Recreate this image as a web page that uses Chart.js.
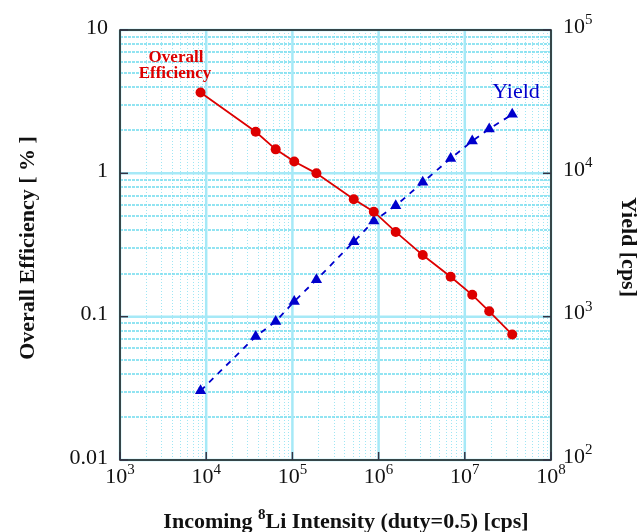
<!DOCTYPE html>
<html>
<head>
<meta charset="utf-8">
<script src="https://cdn.jsdelivr.net/npm/chart.js@4.4.1/dist/chart.umd.min.js"></script>
<style>
  html, body { margin: 0; padding: 0; background: #fff; }
  canvas { display: block; }
</style>
</head>
<body>
<canvas id="chart" width="641" height="532"></canvas>
<script>
// Data
const intensity  = [8.6e3, 3.75e4, 6.4e4, 1.05e5, 1.9e5, 5.15e5, 8.8e5, 1.58e6, 3.25e6, 6.85e6, 1.22e7, 1.92e7, 3.55e7];
const efficiency = [3.66, 1.95, 1.47, 1.21, 1.0, 0.66, 0.54, 0.39, 0.269, 0.19, 0.142, 0.109, 0.075];
const yieldCps   = [304, 728, 925, 1277, 1810, 3330, 4650, 5950, 8650, 12700, 16800, 20400, 25800];

const xExponents     = [3, 4, 5, 6, 7, 8];
const effTickValues  = [10, 1, 0.1, 0.01];
const effTickLabels  = ['10', '1', '0.1', '0.01'];
const yieldExponents = [2, 3, 4, 5];

const RED = '#dd0000';
const BLUE = '#0000cc';
const SERIF = '"Liberation Serif", "DejaVu Serif", serif';

// Helpers
function toPoints(xs, ys) {
  return xs.map((x, i) => ({ x: x, y: ys[i] }));
}

function drawPower(ctx, x, y, exp, align) {
  // "10" with a raised exponent, real text
  ctx.font = '22px ' + SERIF;
  const wBase = ctx.measureText('10').width;
  ctx.font = '15px ' + SERIF;
  const wExp = ctx.measureText(String(exp)).width;
  let left = x;
  if (align === 'center') left = x - (wBase + wExp) / 2;
  ctx.textAlign = 'left';
  ctx.textBaseline = 'middle';
  ctx.font = '22px ' + SERIF;
  ctx.fillText('10', left, y);
  ctx.font = '15px ' + SERIF;
  ctx.fillText(String(exp), left + wBase, y - 7);
}

// Grid, frame and tick marks under the data
const gridPlugin = {
  id: 'logGrid',
  beforeDatasetsDraw(chart) {
    const { ctx, chartArea: a, scales } = chart;
    const sx = scales.x, sy = scales.y;
    ctx.save();

    // minor vertical lines
    ctx.setLineDash([1, 2]);
    ctx.lineWidth = 1;
    ctx.strokeStyle = '#9fe6f4';
    for (let e = 3; e < 8; e++) {
      for (let m = 2; m <= 9; m++) {
        const px = Math.round(sx.getPixelForValue(m * Math.pow(10, e))) + 0.5;
        ctx.beginPath(); ctx.moveTo(px, a.top); ctx.lineTo(px, a.bottom); ctx.stroke();
      }
    }
    // minor horizontal lines
    ctx.setLineDash([3, 1]);
    ctx.lineWidth = 1.5;
    ctx.strokeStyle = '#6fdcee';
    for (let e = -2; e < 1; e++) {
      for (let m = 2; m <= 9; m++) {
        const py = Math.round(sy.getPixelForValue(m * Math.pow(10, e)));
        ctx.beginPath(); ctx.moveTo(a.left, py); ctx.lineTo(a.right, py); ctx.stroke();
      }
    }
    // major lines
    ctx.setLineDash([]);
    ctx.lineWidth = 2.5;
    ctx.strokeStyle = '#a6e9f7';
    xExponents.forEach(e => {
      const px = sx.getPixelForValue(Math.pow(10, e));
      ctx.beginPath(); ctx.moveTo(px, a.top); ctx.lineTo(px, a.bottom); ctx.stroke();
    });
    effTickValues.forEach(v => {
      const py = sy.getPixelForValue(v);
      ctx.beginPath(); ctx.moveTo(a.left, py); ctx.lineTo(a.right, py); ctx.stroke();
    });

    // frame
    ctx.lineWidth = 1.5;
    ctx.strokeStyle = '#111';
    ctx.strokeRect(a.left, a.top, a.right - a.left, a.bottom - a.top);

    // decade tick marks, inside
    ctx.strokeStyle = '#334';
    ctx.lineWidth = 1.5;
    xExponents.forEach(e => {
      const px = sx.getPixelForValue(Math.pow(10, e));
      ctx.beginPath(); ctx.moveTo(px, a.bottom); ctx.lineTo(px, a.bottom - 8); ctx.stroke();
    });
    effTickValues.forEach(v => {
      const py = sy.getPixelForValue(v);
      ctx.beginPath(); ctx.moveTo(a.left, py); ctx.lineTo(a.left + 8, py); ctx.stroke();
      ctx.beginPath(); ctx.moveTo(a.right, py); ctx.lineTo(a.right - 8, py); ctx.stroke();
    });
    ctx.restore();
  }
};

// Tick labels, titles and annotations
const labelPlugin = {
  id: 'labels',
  afterDraw(chart) {
    const { ctx, chartArea: a, scales } = chart;
    ctx.save();
    ctx.fillStyle = '#111';

    // bottom ticks
    xExponents.forEach(e => {
      drawPower(ctx, scales.x.getPixelForValue(Math.pow(10, e)), a.bottom + 17, e, 'center');
    });
    // left ticks
    ctx.font = '22px ' + SERIF;
    ctx.textAlign = 'right';
    ctx.textBaseline = 'middle';
    effTickValues.forEach((v, i) => {
      ctx.fillText(effTickLabels[i], a.left - 12, scales.y.getPixelForValue(v) - 2);
    });
    // right ticks
    yieldExponents.forEach(e => {
      drawPower(ctx, a.right + 12, scales.y2.getPixelForValue(Math.pow(10, e)) - 3, e, 'left');
    });

    // bottom title with superscript 8
    const pre = 'Incoming ', sup = '8', post = 'Li Intensity (duty=0.5) [cps]';
    ctx.textBaseline = 'alphabetic';
    ctx.textAlign = 'left';
    ctx.font = 'bold 22px ' + SERIF;
    const wPre = ctx.measureText(pre).width, wPost = ctx.measureText(post).width;
    ctx.font = 'bold 15px ' + SERIF;
    const wSup = ctx.measureText(sup).width;
    let x0 = 346 - (wPre + wSup + wPost) / 2;
    ctx.font = 'bold 22px ' + SERIF;
    ctx.fillText(pre, x0, 528);
    ctx.font = 'bold 15px ' + SERIF;
    ctx.fillText(sup, x0 + wPre, 519);
    ctx.font = 'bold 22px ' + SERIF;
    ctx.fillText(post, x0 + wPre + wSup, 528);

    // left title
    ctx.save();
    ctx.translate(34, 248);
    ctx.rotate(-Math.PI / 2);
    ctx.textAlign = 'center';
    ctx.font = 'bold 22px ' + SERIF;
    ctx.fillText('Overall Efficiency [ % ]', 0, 0);
    ctx.restore();

    // right title
    ctx.save();
    ctx.translate(622, 247);
    ctx.rotate(Math.PI / 2);
    ctx.textAlign = 'center';
    ctx.font = 'bold 22px ' + SERIF;
    ctx.fillText('Yield [cps]', 0, 0);
    ctx.restore();

    // series annotations
    ctx.textAlign = 'center';
    ctx.textBaseline = 'middle';
    ctx.fillStyle = RED;
    ctx.font = 'bold 17px ' + SERIF;
    ctx.fillText('Overall', 176, 58);
    ctx.fillText('Efficiency', 175, 74);
    ctx.fillStyle = BLUE;
    ctx.font = '22px ' + SERIF;
    ctx.fillText('Yield', 516, 92);
    ctx.restore();
  }
};

new Chart(document.getElementById('chart'), {
  type: 'line',
  data: {
    datasets: [
      {
        label: 'Overall Efficiency',
        data: toPoints(intensity, efficiency),
        yAxisID: 'y',
        borderColor: RED,
        backgroundColor: RED,
        borderWidth: 1.8,
        pointStyle: 'circle',
        pointRadius: 5,
        pointBorderWidth: 0,
        tension: 0
      },
      {
        label: 'Yield',
        data: toPoints(intensity, yieldCps),
        yAxisID: 'y2',
        borderColor: BLUE,
        backgroundColor: BLUE,
        borderWidth: 1.8,
        borderDash: [6, 6],
        pointStyle: 'triangle',
        pointRadius: 6.5,
        pointBorderWidth: 0,
        tension: 0
      }
    ]
  },
  options: {
    responsive: false,
    animation: false,
    devicePixelRatio: 1,
    layout: { padding: { left: 120, right: 90, top: 30, bottom: 72 } },
    plugins: { legend: { display: false }, tooltip: { enabled: false } },
    scales: {
      x: { type: 'logarithmic', min: 1e3, max: 1e8, display: false },
      y: { type: 'logarithmic', position: 'left', min: 0.01, max: 10, display: false },
      y2: { type: 'logarithmic', position: 'right', min: 100, max: 1e5, display: false }
    }
  },
  plugins: [gridPlugin, labelPlugin]
});
</script>
</body>
</html>
